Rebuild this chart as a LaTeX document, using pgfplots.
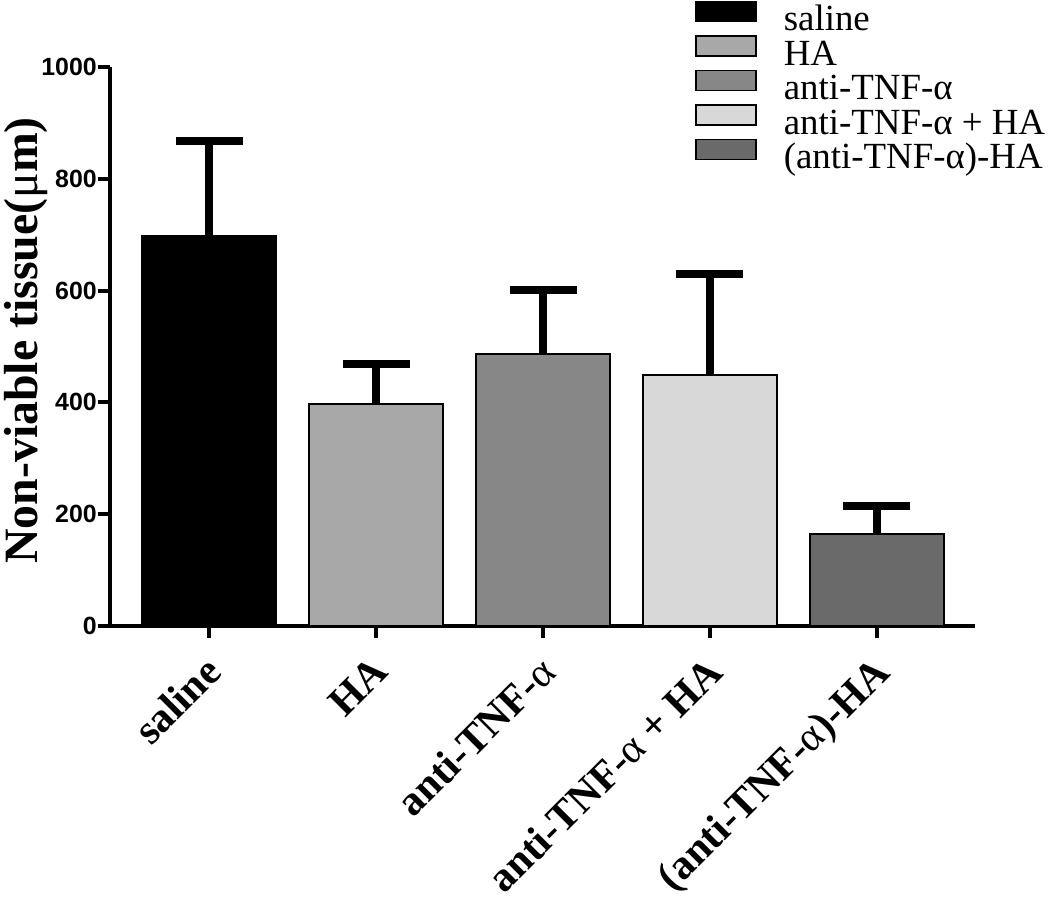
\documentclass[border=0pt]{standalone}
\usepackage{fontspec}
\setmainfont{Liberation Serif}
\newfontfamily\arial{Liberation Sans}
\usepackage{pgfplots}
\pgfplotsset{compat=1.18}
\definecolor{cHA}{HTML}{A8A8A8}
\definecolor{cAnti}{HTML}{878787}
\definecolor{cBoth}{HTML}{D8D8D8}
\definecolor{cConj}{HTML}{6A6A6A}
\pgfplotsset{
  mybar/.style={ybar, bar width=0.8, bar shift=0pt, fill=#1, draw=black, line width=1.5bp,
    legend image code/.code={\draw[fill=#1,draw=black,line width=1.5bp] (0bp,2bp) rectangle (60bp,22bp);},
    error bars/.cd, y dir=plus, y explicit,
    error bar style={line width=8bp,black},
    error mark options={rotate=90, mark size=33.5bp, line width=8bp, black}},
}
\begin{document}
\begin{tikzpicture}
\begin{axis}[
  at={(0,0)}, anchor=south west,
  scale only axis, width=865bp, height=559bp,
  xmin=-0.593, xmax=4.587, ymin=0, ymax=1000,
  axis lines=left, axis line style={-, line width=4bp, black},
  xtick={0,1,2,3,4},
  xticklabels={saline, HA, anti-TNF-{\mdseries α}, anti-TNF-{\mdseries α} + HA, (anti-TNF-{\mdseries α})-HA},
  ytick={0,200,400,600,800,1000},
  tick align=outside, major tick length=12bp,
  tick style={line width=4bp, black},
  /pgf/number format/assume math mode=true,
  /pgf/number format/set thousands separator={},
  yticklabel style={font=\arial\bfseries\fontsize{25}{25}\selectfont, inner sep=0pt, xshift=-1bp},
  xticklabel style={font=\bfseries\fontsize{42}{42}\selectfont, xshift=-6bp, yshift=-13bp, rotate=45, anchor=north east, inner sep=2bp},
  ylabel={Non-viable tissue({\mdseries μ}m)},
  every axis y label/.style={at={(axis description cs:0,0.5)}, xshift=-106bp, yshift=6bp, rotate=90, anchor=north, inner sep=0pt, font=\bfseries\fontsize{48}{48}\selectfont},
  legend style={at={(axis description cs:0.673,1.122)}, anchor=north west, draw=none, fill=none,
    font=\fontsize{37}{37}\selectfont, row sep=0pt, column sep=27bp,
    nodes={inner sep=0pt, text height=19bp, text depth=4.5bp}},
  legend cell align=left,
]
\addplot[mybar=black] coordinates {(0,699) +- (0,169)};
\addlegendentry{saline}
\addplot[mybar=cHA] coordinates {(1,397) +- (0,72)};
\addlegendentry{HA}
\addplot[mybar=cAnti] coordinates {(2,487) +- (0,114)};
\addlegendentry{anti-TNF-α}
\addplot[mybar=cBoth] coordinates {(3,449) +- (0,181)};
\addlegendentry{anti-TNF-α + HA}
\addplot[mybar=cConj] coordinates {(4,165) +- (0,50)};
\addlegendentry{(anti-TNF-α)-HA}
\end{axis}
\pgfresetboundingbox
\path[use as bounding box] (-110bp,-278bp) rectangle (940bp,626bp);
\end{tikzpicture}
\end{document}
